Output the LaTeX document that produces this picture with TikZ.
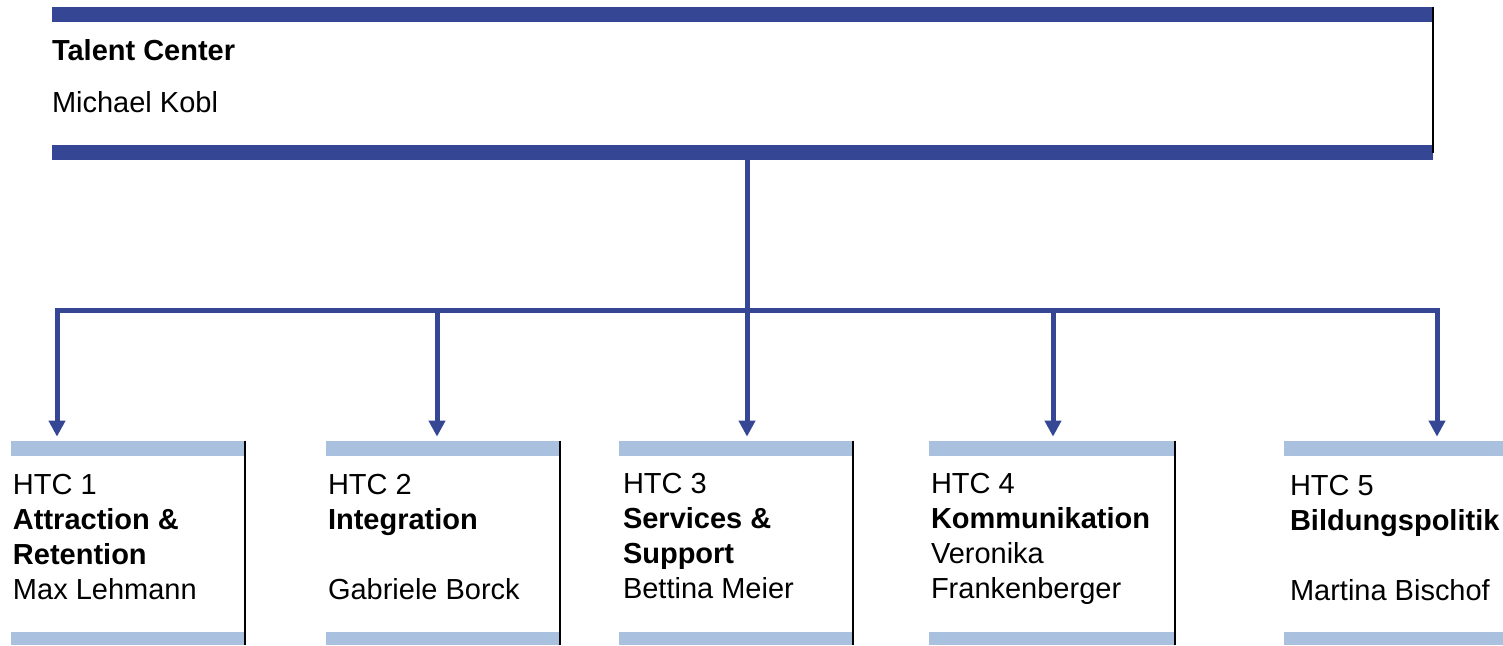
\documentclass[tikz,border=0pt]{standalone}
\usepackage{fontspec}
\setmainfont{Liberation Sans}
\usetikzlibrary{arrows.meta,positioning}
\definecolor{navy}{RGB}{52,70,148}
\definecolor{paleblue}{RGB}{169,192,222}

\begin{document}
\begin{tikzpicture}[
    headbox/.style={rectangle, inner sep=0pt, minimum width=27.62cm, minimum height=3.06cm,
        path picture={
            \fill[navy] (path picture bounding box.north west) rectangle ([yshift=-0.3cm]path picture bounding box.north east);
            \fill[navy] (path picture bounding box.south west) rectangle ([yshift=0.3cm]path picture bounding box.south east);
        }},
    htcbox/.style={rectangle, inner sep=0pt, minimum width=4.68cm, minimum height=4.08cm,
        path picture={
            \fill[paleblue] (path picture bounding box.north west) rectangle ([yshift=-0.3cm]path picture bounding box.north east);
            \fill[paleblue] (path picture bounding box.south west) rectangle ([yshift=0.26cm]path picture bounding box.south east);
        }},
    boxtext/.style={inner sep=0pt, align=left, font=\fontsize{16.5}{19.9}\selectfont},
    sideline/.style={draw=black, line width=0.04cm},
    arrow/.style={-{Triangle[width=0.32cm,length=0.32cm]}, line width=0.1cm, draw=navy, shorten >=0.08cm}
]
    \useasboundingbox (0,0) rectangle (30.06,12.9);

    % Talent Center
    \node[headbox] (topbox) at (14.85,11.23) {};
    \draw[sideline] (topbox.north east) -- ([yshift=0.14cm]topbox.south east);
    \node[boxtext, font=\fontsize{16.5}{29.6}\selectfont, below right=0.65cm and 0cm of topbox.north west] (toptext)
        {\textbf{Talent Center}\\Michael Kobl};

    % HTC boxes
    \node[htcbox] (htc1) at (2.56,2.04) {};
    \node[htcbox] (htc2) at (8.86,2.04) {};
    \node[htcbox] (htc3) at (14.72,2.04) {};
    \node[htcbox, minimum width=4.92cm] (htc4) at (21.04,2.04) {};
    \node[htcbox] (htc5) at (28.02,2.04) {};
    \foreach \i in {1,...,5}
        \draw[sideline] (htc\i.north east) -- (htc\i.south east);

    \node[boxtext, below right=0.66cm and 0.04cm of htc1.north west] (text1)
        {HTC 1\\\textbf{Attraction \&}\\\textbf{Retention}\\Max Lehmann};
    \node[boxtext, below right=0.66cm and 0.04cm of htc2.north west] (text2)
        {HTC 2\\\textbf{Integration}\\[0.7cm]Gabriele Borck};
    \node[boxtext, below right=0.64cm and 0.08cm of htc3.north west] (text3)
        {HTC 3\\\textbf{Services \&}\\\textbf{Support}\\Bettina Meier};
    \node[boxtext, below right=0.64cm and 0.04cm of htc4.north west] (text4)
        {HTC 4\\\textbf{Kommunikation}\\Veronika\\Frankenberger};
    \node[boxtext, below right=0.68cm and 0.12cm of htc5.north west] (text5)
        {HTC 5\\\textbf{Bildungspolitik}\\[0.7cm]Martina Bischof};

    % Connectors
    \coordinate (split) at (14.94,6.68);
    \coordinate (b1) at (1.14,6.68);
    \coordinate (b2) at (8.74,6.68);
    \coordinate (b4) at (21.06,6.68);
    \coordinate (b5) at (28.74,6.68);
    \draw[arrow] (topbox.south -| split) -- (split |- htc3.north);
    \draw[arrow] (split) -| (b1 |- htc1.north);
    \draw[arrow] (split) -| (b5 |- htc5.north);
    \draw[arrow] (b2) -- (b2 |- htc2.north);
    \draw[arrow] (b4) -- (b4 |- htc4.north);
\end{tikzpicture}
\end{document}
